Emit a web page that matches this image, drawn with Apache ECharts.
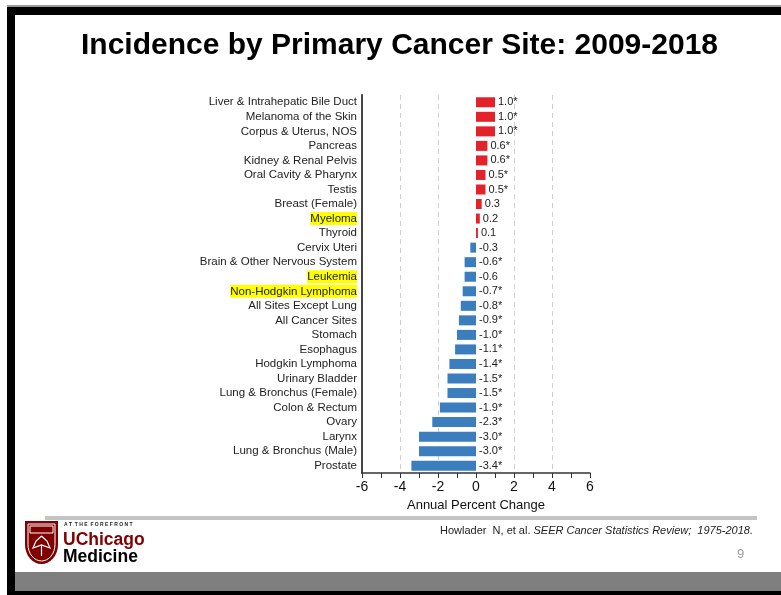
<!DOCTYPE html>
<html>
<head>
<meta charset="utf-8">
<script src="https://cdn.jsdelivr.net/npm/echarts@6/dist/echarts.min.js"></script>
<style>
  html, body { margin: 0; padding: 0; background: #fff; }
  #main { width: 781px; height: 595px; }
</style>
</head>
<body>
<div id="main"></div>
<script>
const sites = [
  'Liver & Intrahepatic Bile Duct', 'Melanoma of the Skin', 'Corpus & Uterus, NOS',
  'Pancreas', 'Kidney & Renal Pelvis', 'Oral Cavity & Pharynx', 'Testis',
  'Breast (Female)', 'Myeloma', 'Thyroid', 'Cervix Uteri',
  'Brain & Other Nervous System', 'Leukemia', 'Non-Hodgkin Lymphoma',
  'All Sites Except Lung', 'All Cancer Sites', 'Stomach', 'Esophagus',
  'Hodgkin Lymphoma', 'Urinary Bladder', 'Lung & Bronchus (Female)',
  'Colon & Rectum', 'Ovary', 'Larynx', 'Lung & Bronchus (Male)', 'Prostate'
];
const apc = [
  1.0, 1.0, 1.0, 0.6, 0.6, 0.5, 0.5, 0.3, 0.2, 0.1, -0.3,
  -0.6, -0.6, -0.7, -0.8, -0.9, -1.0, -1.1, -1.4, -1.5, -1.5,
  -1.9, -2.3, -3.0, -3.0, -3.4
];
const significant = [
  true, true, true, true, true, true, true, false, false, false, false,
  true, false, true, true, true, true, true, true, true, true,
  true, true, true, true, true
];
const highlighted = ['Myeloma', 'Leukemia', 'Non-Hodgkin Lymphoma'];

const RED = '#e4222b';
const BLUE = '#3b7dbd';
const FONT = '"Liberation Sans", Arial, sans-serif';
const NARROW = '"Liberation Sans Narrow", "Liberation Sans", Arial, sans-serif';

// shield outline for the logo
function shield(x0, y0, w, h) {
  const pts = [[x0, y0], [x0 + w, y0], [x0 + w, y0 + h * 0.55]];
  for (let t = 1; t <= 8; t++) {
    const a = t / 8 * Math.PI / 2;
    pts.push([x0 + w / 2 + (w / 2) * Math.cos(a), y0 + h * 0.55 + h * 0.45 * Math.sin(a)]);
  }
  for (let t = 7; t >= 0; t--) {
    const a = t / 8 * Math.PI / 2;
    pts.push([x0 + w / 2 - (w / 2) * Math.cos(a), y0 + h * 0.55 + h * 0.45 * Math.sin(a)]);
  }
  return pts;
}

const chart = echarts.init(document.getElementById('main'));

const option = {
  backgroundColor: '#fff',
  animation: false,
  title: {
    text: 'Incidence by Primary Cancer Site: 2009-2018',
    left: 76,
    top: 26,
    textStyle: { fontFamily: FONT, fontWeight: 'bold', fontSize: 30, color: '#000' }
  },
  grid: { left: 362, right: 191, top: 95, bottom: 122, outerBoundsMode: 'none' },
  xAxis: {
    type: 'value',
    min: -6,
    max: 6,
    interval: 2,
    name: 'Annual Percent Change',
    nameLocation: 'middle',
    nameGap: 25,
    nameTextStyle: { fontFamily: FONT, fontSize: 13, color: '#111' },
    axisLine: { show: true, lineStyle: { color: '#333', width: 1.5 } },
    axisTick: { show: true, length: 5, lineStyle: { color: '#333' } },
    minorTick: { show: true, splitNumber: 2, length: 5, lineStyle: { color: '#333' } },
    axisLabel: { fontFamily: FONT, fontSize: 14, color: '#111', margin: 7 },
    splitLine: {
      show: true,
      lineStyle: {
        type: [5, 4],
        width: 1,
        color: ['rgba(0,0,0,0)', '#cfcfcf', '#cfcfcf', 'rgba(0,0,0,0)', '#cfcfcf', '#cfcfcf', 'rgba(0,0,0,0)']
      }
    }
  },
  yAxis: {
    type: 'category',
    inverse: true,
    data: sites,
    axisLine: { show: true, onZero: false, lineStyle: { color: '#444', width: 2 } },
    axisTick: { show: false },
    axisLabel: {
      interval: 0,
      fontFamily: FONT,
      fontSize: 11.5,
      color: '#222',
      margin: 5,
      formatter: function (v) {
        return highlighted.indexOf(v) >= 0 ? '{hl|' + v + '}' : v;
      },
      rich: {
        hl: { backgroundColor: '#ffff00', fontFamily: FONT, fontSize: 11.5, color: '#222', padding: [1, 0, 0, 0] }
      }
    }
  },
  series: [{
    type: 'bar',
    barWidth: 10,
    data: apc.map(function (v) {
      return { value: v, itemStyle: { color: v >= 0 ? RED : BLUE } };
    }),
    label: {
      show: true,
      position: 'right',
      distance: 3,
      fontFamily: FONT,
      fontSize: 11,
      color: '#222',
      formatter: function (p) {
        return p.value.toFixed(1) + (significant[p.dataIndex] ? '*' : '');
      }
    }
  }],
  graphic: [
    // slide frame
    { type: 'rect', shape: { x: 7, y: 5, width: 774, height: 2 }, style: { fill: '#9a9a9a' } },
    { type: 'rect', shape: { x: 7, y: 7, width: 774, height: 8 }, style: { fill: '#000' } },
    { type: 'rect', shape: { x: 7, y: 7, width: 8, height: 588 }, style: { fill: '#000' } },
    { type: 'rect', shape: { x: 15, y: 572, width: 766, height: 19 }, style: { fill: '#7f7f7f' } },
    { type: 'rect', shape: { x: 7, y: 591, width: 774, height: 4 }, style: { fill: '#000' } },
    // separator under chart
    { type: 'rect', shape: { x: 45, y: 516, width: 712, height: 4 }, style: { fill: '#c4c4c4' } },
    // citation
    {
      type: 'text', x: 440, y: 525,
      style: {
        text: '{n|Howlader  N, et al. }{i|SEER Cancer Statistics Review;  1975-2018.}',
        rich: {
          n: { fontFamily: NARROW, fontSize: 11, fill: '#222' },
          i: { fontFamily: NARROW, fontSize: 11, fontStyle: 'italic', fill: '#222' }
        }
      }
    },
    { type: 'text', x: 737, y: 548, style: { text: '9', fontFamily: FONT, fontSize: 13, fill: '#9a9a9a' } },
    // logo
    { type: 'polygon', shape: { points: shield(25, 521, 33, 43) }, style: { fill: '#800000' } },
    { type: 'polygon', shape: { points: shield(28, 524, 27, 37) }, style: { fill: 'none', stroke: '#fff', lineWidth: 1 } },
    { type: 'rect', shape: { x: 30, y: 526, width: 23, height: 7 }, style: { fill: 'none', stroke: '#fff', lineWidth: 1 } },
    { type: 'polyline', shape: { points: [[41.5, 536], [36, 541], [33, 548], [41.5, 545], [50, 548], [47, 541], [41.5, 536]] }, style: { fill: 'none', stroke: '#fff', lineWidth: 1.2 } },
    { type: 'line', shape: { x1: 41.5, y1: 545, x2: 41.5, y2: 556 }, style: { stroke: '#fff', lineWidth: 1.2 } },
    { type: 'text', x: 64, y: 522, style: { text: 'A T  T H E  F O R E F R O N T', fontFamily: FONT, fontWeight: 'bold', fontSize: 5, fill: '#222' } },
    { type: 'text', x: 63, y: 531, style: { text: 'UChicago', fontFamily: FONT, fontWeight: 'bold', fontSize: 17.5, fill: '#800000' } },
    { type: 'text', x: 63, y: 548, style: { text: 'Medicine', fontFamily: FONT, fontWeight: 'bold', fontSize: 17.5, fill: '#000' } }
  ]
};

chart.setOption(option);
</script>
</body>
</html>
